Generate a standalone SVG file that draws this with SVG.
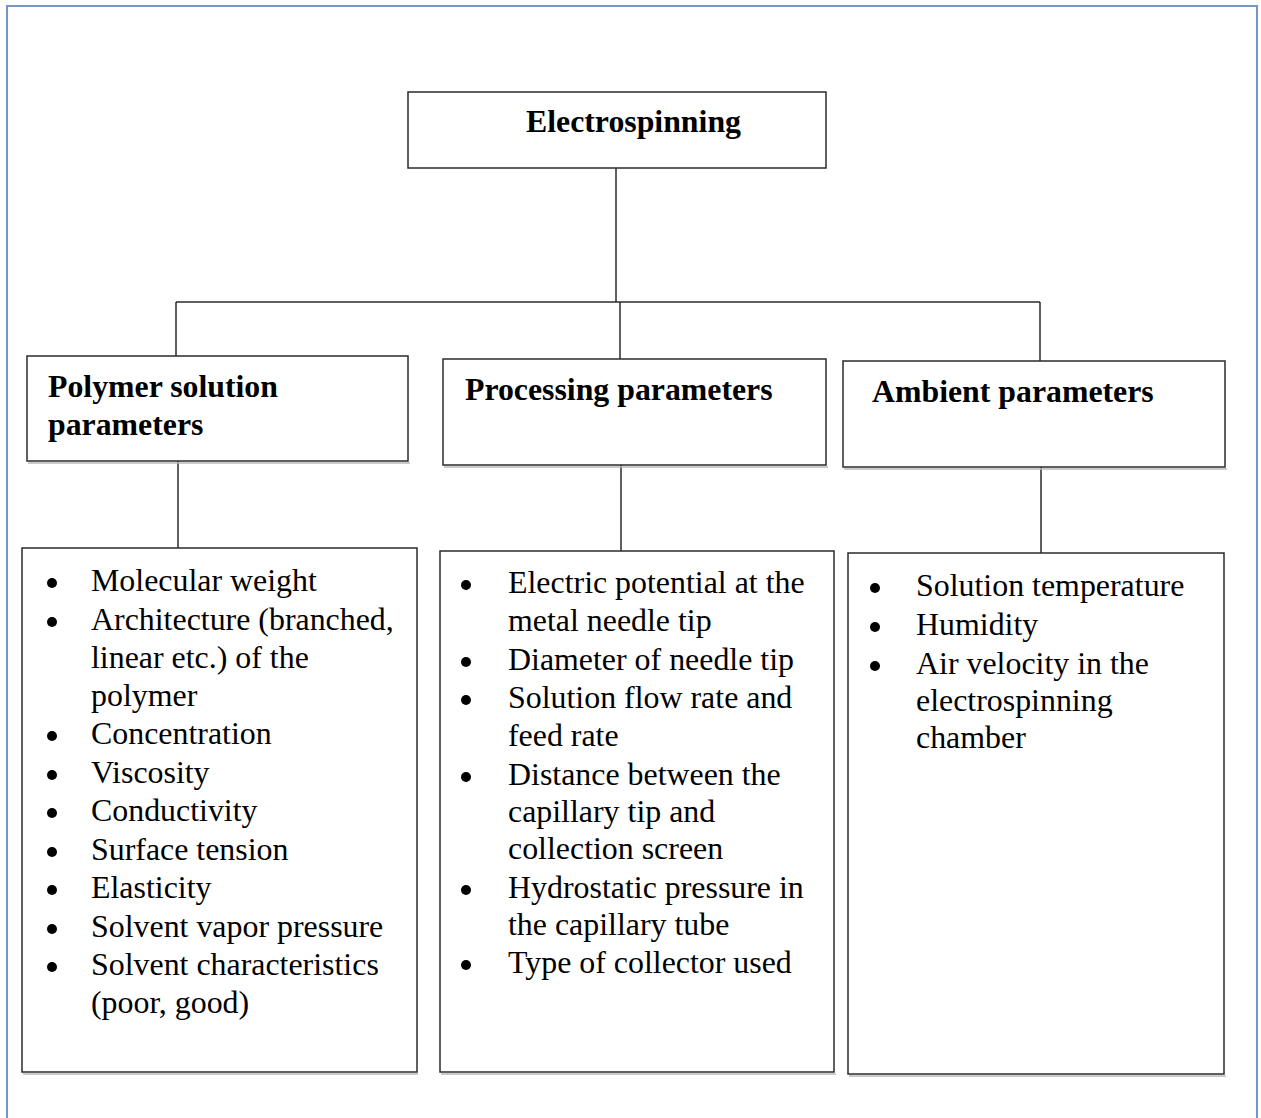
<svg xmlns="http://www.w3.org/2000/svg" width="1261" height="1118" viewBox="0 0 1261 1118">
<style>
.box{fill:#ffffff;stroke:#2b2b2b;stroke-width:1.5}
.shadow{fill:none;stroke:#b8b8b8;stroke-width:1.5}
.conn{stroke:#2b2b2b;stroke-width:1.5;fill:none}
.hdr{font-family:"Liberation Serif","Times New Roman",serif;font-weight:bold;font-size:31.8px;fill:#000}
.item{font-family:"Liberation Serif","Times New Roman",serif;font-size:31.9px;fill:#000}
.bul{fill:#000}
</style>
<rect x="0" y="0" width="1261" height="1118" fill="#ffffff"/>
<rect x="7" y="6" width="1250" height="1140" fill="none" stroke="#7398c0" stroke-width="2"/>

<g id="connectors">
<line class="conn" x1="616" y1="168" x2="616" y2="302"/>
<line class="conn" x1="176" y1="302" x2="1040" y2="302"/>
<line class="conn" x1="176" y1="302" x2="176" y2="356"/>
<line class="conn" x1="620" y1="302" x2="620" y2="359"/>
<line class="conn" x1="1040" y1="302" x2="1040" y2="361"/>
<line class="conn" x1="178" y1="461" x2="178" y2="548"/>
<line class="conn" x1="621" y1="465" x2="621" y2="551"/>
<line class="conn" x1="1041" y1="467" x2="1041" y2="553"/>
</g>

<g id="electrospinning">
<rect class="box" x="408" y="92" width="418" height="76"/>
<text class="hdr" x="526" y="132">Electrospinning</text>
</g>

<g id="polymer-solution-parameters">
<line class="shadow" x1="28" y1="463" x2="410" y2="463"/>
<rect class="box" x="27" y="356" width="381" height="105"/>
<text class="hdr" x="48" y="397">Polymer solution</text>
<text class="hdr" x="48" y="435">parameters</text>
</g>

<g id="processing-parameters">
<line class="shadow" x1="444" y1="467" x2="828" y2="467"/>
<rect class="box" x="443" y="359" width="383" height="106"/>
<text class="hdr" x="465" y="400">Processing parameters</text>
</g>

<g id="ambient-parameters">
<line class="shadow" x1="844" y1="469" x2="1227" y2="469"/>
<rect class="box" x="843" y="361" width="382" height="106"/>
<text class="hdr" x="872" y="402">Ambient parameters</text>
</g>

<g id="polymer-list">
<line class="shadow" x1="23" y1="1074" x2="418" y2="1074"/>
<rect class="box" x="22" y="548" width="395" height="524"/>
<circle class="bul" cx="52" cy="583" r="5"/>
<text class="item" x="91" y="591">Molecular weight</text>
<circle class="bul" cx="52" cy="622" r="5"/>
<text class="item" x="91" y="630">Architecture (branched,</text>
<text class="item" x="91" y="668">linear etc.) of the</text>
<text class="item" x="91" y="706">polymer</text>
<circle class="bul" cx="52" cy="736" r="5"/>
<text class="item" x="91" y="744">Concentration</text>
<circle class="bul" cx="52" cy="775" r="5"/>
<text class="item" x="91" y="783">Viscosity</text>
<circle class="bul" cx="52" cy="813" r="5"/>
<text class="item" x="91" y="821">Conductivity</text>
<circle class="bul" cx="52" cy="852" r="5"/>
<text class="item" x="91" y="860">Surface tension</text>
<circle class="bul" cx="52" cy="890" r="5"/>
<text class="item" x="91" y="898">Elasticity</text>
<circle class="bul" cx="52" cy="929" r="5"/>
<text class="item" x="91" y="937">Solvent vapor pressure</text>
<circle class="bul" cx="52" cy="967" r="5"/>
<text class="item" x="91" y="975">Solvent characteristics</text>
<text class="item" x="91" y="1013">(poor, good)</text>
</g>

<g id="processing-list">
<line class="shadow" x1="441" y1="1074" x2="836" y2="1074"/>
<rect class="box" x="440" y="551" width="394" height="521"/>
<circle class="bul" cx="466" cy="585" r="5"/>
<text class="item" x="508" y="593">Electric potential at the</text>
<text class="item" x="508" y="631">metal needle tip</text>
<circle class="bul" cx="466" cy="662" r="5"/>
<text class="item" x="508" y="670">Diameter of needle tip</text>
<circle class="bul" cx="466" cy="700" r="5"/>
<text class="item" x="508" y="708">Solution flow rate and</text>
<text class="item" x="508" y="746">feed rate</text>
<circle class="bul" cx="466" cy="777" r="5"/>
<text class="item" x="508" y="785">Distance between the</text>
<text class="item" x="508" y="822">capillary tip and</text>
<text class="item" x="508" y="859">collection screen</text>
<circle class="bul" cx="466" cy="890" r="5"/>
<text class="item" x="508" y="898">Hydrostatic pressure in</text>
<text class="item" x="508" y="935">the capillary tube</text>
<circle class="bul" cx="466" cy="965" r="5"/>
<text class="item" x="508" y="973">Type of collector used</text>
</g>

<g id="ambient-list">
<line class="shadow" x1="849" y1="1076" x2="1226" y2="1076"/>
<rect class="box" x="848" y="553" width="376" height="521"/>
<circle class="bul" cx="875" cy="588" r="5"/>
<text class="item" x="916" y="596">Solution temperature</text>
<circle class="bul" cx="875" cy="627" r="5"/>
<text class="item" x="916" y="635">Humidity</text>
<circle class="bul" cx="875" cy="666" r="5"/>
<text class="item" x="916" y="674">Air velocity in the</text>
<text class="item" x="916" y="711">electrospinning</text>
<text class="item" x="916" y="748">chamber</text>
</g>
</svg>
